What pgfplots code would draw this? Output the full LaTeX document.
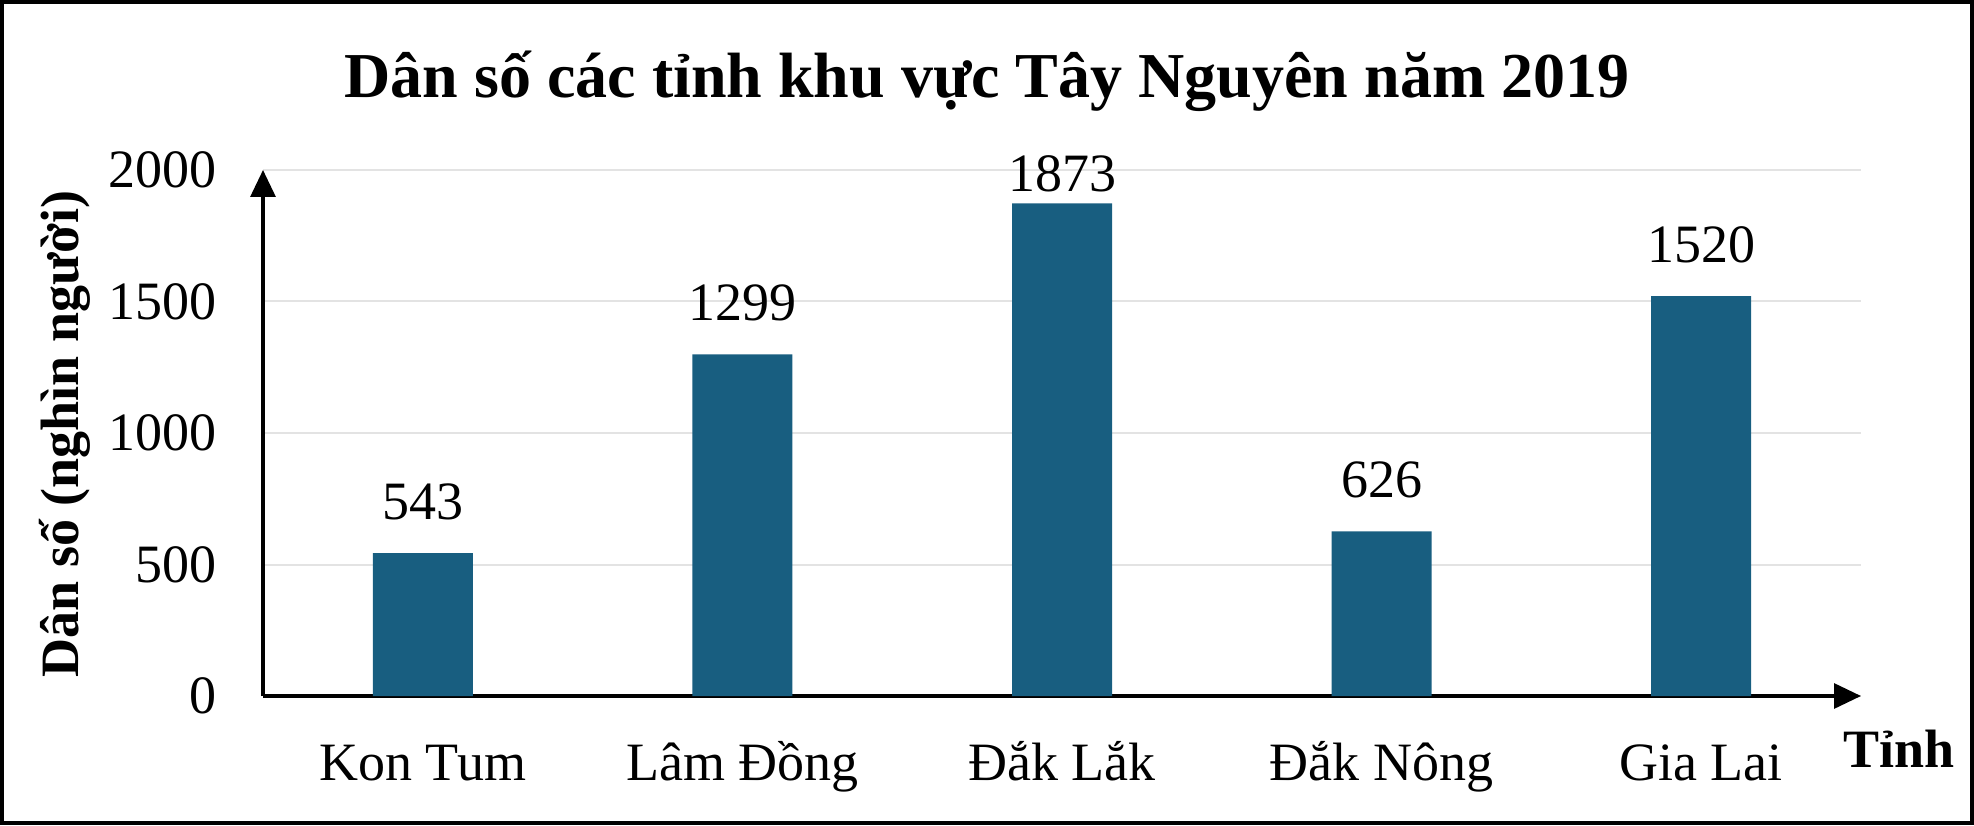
\documentclass[border=0pt]{standalone}
\usepackage{fontspec}
\setmainfont{Liberation Serif}
\usepackage{pgfplots}
\usepackage{pgfplotstable}
\pgfplotsset{compat=1.18}
\usetikzlibrary{arrows.meta}
\definecolor{barc}{HTML}{185E80}
\definecolor{gridc}{HTML}{E3E3E3}

\pgfplotstableread{
x y s
0 543 16.5
1 1299 16.5
2 1873 5.5
3 626 16.5
4 1520 16.5
}\datatable

\begin{document}
\begin{tikzpicture}
\begin{axis}[
  at={(131.5pt,64.5pt)}, anchor=south west,
  scale only axis, width=799pt, height=263pt,
  xmin=-0.5, xmax=4.5, ymin=0, ymax=2000,
  axis lines=left,
  axis line style={line width=1.6pt, -{Triangle[length=13.5pt,width=12.5pt]}},
  xtick={0,1,2,3,4},
  xticklabels={Kon Tum, Lâm Đồng, Đắk Lắk, Đắk Nông, Gia Lai},
  ytick={0,500,1000,1500,2000},
  major tick length=0pt,
  ymajorgrids, grid style={gridc, line width=1pt},
  /pgf/number format/assume math mode=true,
  /pgf/number format/1000 sep={},
  tick label style={font=\fontsize{27}{32}\selectfont},
  xticklabel style={anchor=base, inner sep=0pt, yshift=-42pt},
  yticklabel style={anchor=east, inner sep=0pt, xshift=-23pt},
  clip=false,
]
\addplot[ybar, fill=barc, draw=none, bar width=50pt,
  nodes near coords,
  visualization depends on={\thisrow{s} \as \lblshift},
  every node near coord/.append style={inner sep=0pt, yshift=\lblshift pt, font=\fontsize{27}{32}\selectfont, text=black},
] table[x=x, y=y] {\datatable};
\end{axis}
\node[anchor=base, font=\bfseries\fontsize{32}{38}\selectfont] at (493.5pt,363.5pt) {Dân số các tỉnh khu vực Tây Nguyên năm 2019};
\node[rotate=90, inner sep=0pt, font=\bfseries\fontsize{27}{32}\selectfont] at (32.5pt,195.5pt) {Dân số (nghìn người)};
\node[anchor=base west, inner sep=0pt, font=\bfseries\fontsize{27}{32}\selectfont] at (921.5pt,29pt) {Tỉnh};
\draw[line width=2pt] (1pt,1pt) rectangle (986pt,411.5pt);
\end{tikzpicture}
\end{document}
